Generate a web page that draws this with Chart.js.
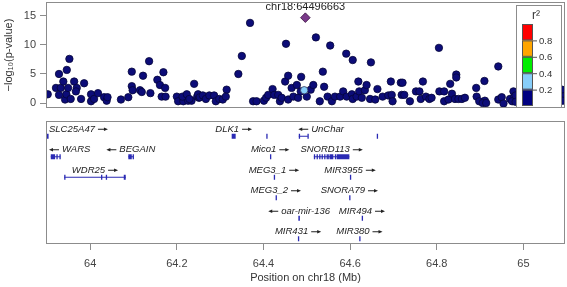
<!DOCTYPE html>
<html>
<head>
<meta charset="utf-8">
<script src="https://cdn.jsdelivr.net/npm/chart.js@4.4.1/dist/chart.umd.min.js"></script>
<style>
  body { margin: 0; background: #fff; }
  #top { position: absolute; left: 0; top: 0; }
  #bottom { position: absolute; left: 0; top: 112px; }
</style>
</head>
<body>
<canvas id="top" width="567" height="112"></canvas>
<canvas id="bottom" width="567" height="175"></canvas>
<script>
// SNP positions (Mb) and -log10(p), r2 < 0.2
const snpPos = [
  63.902, 63.921, 63.928, 63.932, 63.928, 63.938, 63.942, 63.945, 63.949, 63.946,
  63.952, 63.955, 63.963, 63.969, 63.967, 63.979, 63.986, 64.002, 64.002, 64.009,
  64.018, 64.032, 64.038, 64.040, 64.071, 64.088, 64.096, 64.096, 64.098, 64.115,
  64.119, 64.122, 64.136, 64.139, 64.155, 64.161, 64.165, 64.169, 64.173, 64.174,
  64.200, 64.203, 64.215, 64.221, 64.226, 64.234, 64.240, 64.247, 64.251, 64.213,
  64.223, 64.229, 64.249, 64.253, 64.260, 64.267, 64.275, 64.286, 64.290, 64.298,
  64.306, 64.315, 64.313, 64.342, 64.350, 64.369, 64.376, 64.384, 64.401, 64.406,
  64.411, 64.421, 64.425, 64.434, 64.438, 64.442, 64.450, 64.452, 64.457, 64.457,
  64.465, 64.469, 64.477, 64.480, 64.487, 64.486, 64.500, 64.509, 64.515, 64.521,
  64.530, 64.537, 64.540, 64.548, 64.554, 64.558, 64.565, 64.577, 64.584, 64.591,
  64.592, 64.604, 64.606, 64.606, 64.615, 64.619, 64.621, 64.627, 64.634, 64.638,
  64.648, 64.646, 64.658, 64.663, 64.675, 64.688, 64.694, 64.696, 64.698, 64.717,
  64.721, 64.719, 64.725, 64.738, 64.752, 64.760, 64.763, 64.768, 64.775, 64.783,
  64.788, 64.805, 64.806, 64.817, 64.817, 64.827, 64.831, 64.835, 64.845, 64.845,
  64.842, 64.850, 64.858, 64.865, 64.891, 64.892, 64.898, 64.910, 64.911, 64.942,
  64.942, 64.950, 64.969, 64.977, 64.979, 64.906, 64.914, 64.954, 64.974, 64.982,
  64.982, 65.089, 65.091, 65.091
];
const snpLogP = [
  1.5, 2.6, 5.0, 2.6, 1.4, 3.7, 0.6, 1.5, 2.6, 5.7,
  7.6, 0.7, 3.7, 2.6, 2.0, 0.7, 3.4, 1.5, 0.3, 0.7,
  1.7, 1.0, 0.4, 1.0, 0.6, 1.0, 5.4, 2.9, 2.2, 2.2,
  1.9, 4.7, 7.2, 1.7, 4.0, 3.1, 1.1, 5.3, 2.6, 1.1,
  1.1, 0.3, 0.3, 1.1, 0.4, 0.4, 3.3, 1.1, 0.9, 1.1,
  1.5, 0.7, 1.5, 1.0, 1.3, 0.7, 1.3, 1.3, 0.3, 0.7,
  0.6, 2.3, 1.1, 5.0, 8.1, 13.8, 0.3, 0.3, 0.4, 0.9,
  1.4, 2.4, 1.4, 1.4, 0.3, 0.9, 3.7, 10.2, 4.7, 0.6,
  2.6, 1.1, 3.1, 0.9, 4.5, 2.0, 1.1, 2.3, 3.1, 11.3,
  0.3, 5.4, 2.8, 1.1, 9.9, 0.3, 1.1, 1.1, 2.0, 8.5,
  1.1, 1.5, 0.7, 7.4, 1.1, 3.7, 2.0, 0.9, 2.2, 3.1,
  7.0, 0.7, 0.6, 2.4, 1.1, 1.3, 3.7, 1.4, 0.3, 3.5,
  3.5, 1.4, 1.4, 0.3, 2.0, 2.0, 0.7, 3.7, 1.1, 0.7,
  0.9, 9.5, 2.0, 2.0, 0.3, 0.6, 3.3, 1.6, 4.9, 4.4,
  0.7, 0.7, 0.7, 0.9, 2.6, 1.1, 0.3, 3.8, 0.4, 6.3,
  0.6, 1.0, 0.7, 2.0, 1.1, 0.0, 0.0, -0.1, 0.3, 1.3,
  0.2, 2.3, 1.1, 0.4
];
// r2 0.2-0.4
const ldPos = [64.494];
const ldLogP = [2.2];
// lead SNP
const leadName = 'chr18:64496663';
const leadPos = [64.496663];
const leadLogP = [14.7];

const xTicks = [64, 64.2, 64.4, 64.6, 64.8, 65];
const yTicks = [0, 5, 10, 15];
const r2Breaks = [0.8, 0.6, 0.4, 0.2];
const r2Colors = ['#ff0000', '#ffa500', '#00ee00', '#87cefa', '#000080'];

// gene track
const geneNames = ['SLC25A47', 'DLK1', 'UnChar', '', '', 'WARS', 'BEGAIN', 'Mico1', 'SNORD113',
  'WDR25', 'MEG3_1', 'MIR3955', 'MEG3_2', 'SNORA79', 'oar-mir-136', 'MIR494', 'MIR431', 'MIR380'];
const geneRow = [1, 1, 1, 1, 1, 2, 2, 2, 2, 3, 3, 3, 4, 4, 5, 5, 6, 6];
const geneStrand = [1, 1, -1, 1, 1, -1, -1, 1, 1, 1, 1, 1, 1, 1, -1, 1, 1, 1];
const geneLabelAt = [null, null, 64.533, null, null, null, null, null, null,
  null, null, null, null, null, null, null, null, null];
const geneExons = [
  [[63.898, 63.904]],
  [[64.3266, 64.3358]],
  [[64.4815, 64.4825], [64.5015, 64.5025]],
  [[64.4065, 64.4072]],
  [[64.6615, 64.6622]],
  [[63.909, 63.919], [63.922, 63.925], [63.929, 63.931]],
  [[64.088, 64.096], [64.098, 64.0995]],
  [[64.415, 64.4157]],
  [[64.5163, 64.517], [64.5226, 64.5233], [64.5286, 64.5293], [64.5341, 64.5348], [64.5401, 64.5408],
   [64.5457, 64.5464], [64.5494, 64.5501], [64.5536, 64.5612], [64.5648, 64.5655], [64.569, 64.5982]],
  [[63.94, 63.941], [64.025, 64.0257], [64.036, 64.0367], [64.0775, 64.082]],
  [[64.4238, 64.4245]],
  [[64.5995, 64.6002]],
  [[64.428, 64.4287]],
  [[64.5978, 64.5985]],
  [[64.4805, 64.484]],
  [[64.6268, 64.6275]],
  [[64.4795, 64.4802]],
  [[64.621, 64.6217]]
];

const xMin = 63.898, xMax = 65.096;
const frameColor = '#8c8c8c';
const geneColor = '#2a2ab4';

Chart.defaults.font.family = "'Liberation Sans', Arial, sans-serif";
Chart.defaults.color = '#444';

function drawFrame(chart) {
  const { ctx, chartArea: a } = chart;
  ctx.save();
  ctx.strokeStyle = frameColor;
  ctx.lineWidth = 1;
  ctx.strokeRect(a.left + 0.5, a.top + 0.5, a.right - a.left - 1, a.bottom - a.top - 1);
  ctx.restore();
}

const topDecor = {
  id: 'topDecor',
  afterDatasetsDraw(chart) {
    const { ctx, chartArea: a, scales: { x } } = chart;
    ctx.save();
    // lead SNP label
    ctx.fillStyle = '#222';
    ctx.font = "11px 'Liberation Sans', Arial";
    ctx.textAlign = 'center';
    ctx.textBaseline = 'middle';
    ctx.fillText(leadName, x.getPixelForValue(leadPos[0]), a.top + 5);

    // r2 legend
    const lx = a.right - 49, ly = a.top + 3, lw = 45, lh = a.bottom - ly;
    ctx.fillStyle = '#fff';
    ctx.fillRect(lx, ly, lw, lh);
    ctx.strokeStyle = frameColor;
    ctx.strokeRect(lx + 0.5, ly + 0.5, lw, lh - 1);
    ctx.fillStyle = '#333';
    ctx.font = "12px 'Liberation Sans', Arial";
    ctx.fillText('r²', lx + 20, ly + 11);
    const bx = lx + 6, bw = 11, by = ly + 19, bh = 16.4;
    r2Colors.forEach((c, i) => {
      ctx.fillStyle = c;
      ctx.fillRect(bx, by + i * bh, bw, bh);
      ctx.strokeStyle = '#555';
      ctx.strokeRect(bx + 0.5, by + i * bh + 0.5, bw - 1, bh - 1);
    });
    ctx.font = "9.5px 'Liberation Sans', Arial";
    ctx.textAlign = 'left';
    ctx.fillStyle = '#333';
    r2Breaks.forEach((b, i) => {
      const ty = by + (i + 1) * bh;
      ctx.strokeStyle = '#555';
      ctx.beginPath();
      ctx.moveTo(bx + bw, ty + 0.5);
      ctx.lineTo(bx + bw + 4, ty + 0.5);
      ctx.stroke();
      ctx.fillText(b.toFixed(1), bx + bw + 6, ty + 1);
    });
    ctx.restore();
  },
  afterDraw: drawFrame
};

function arrow(ctx, xFrom, xTo, y) {
  const dir = Math.sign(xTo - xFrom);
  ctx.beginPath();
  ctx.moveTo(xFrom, y);
  ctx.lineTo(xTo - dir * 3, y);
  ctx.stroke();
  ctx.beginPath();
  ctx.moveTo(xTo, y);
  ctx.lineTo(xTo - dir * 4, y - 1.8);
  ctx.lineTo(xTo - dir * 4, y + 1.8);
  ctx.closePath();
  ctx.fill();
}

const geneTrack = {
  id: 'geneTrack',
  afterDatasetsDraw(chart) {
    const { ctx, chartArea: a, scales: { x, y } } = chart;
    ctx.save();
    ctx.beginPath();
    ctx.rect(a.left, a.top, a.right - a.left, a.bottom - a.top);
    ctx.clip();
    geneNames.forEach((name, i) => {
      const ex = geneExons[i];
      const start = Math.min(...ex.map(e => e[0]));
      const end = Math.max(...ex.map(e => e[1]));
      const yc = y.getPixelForValue(geneRow[i]);
      const x0 = x.getPixelForValue(start), x1 = x.getPixelForValue(end);
      ctx.strokeStyle = geneColor;
      ctx.fillStyle = geneColor;
      ctx.lineWidth = 1;
      if (x1 - x0 > 4) {
        ctx.beginPath();
        ctx.moveTo(x0, yc + 0.5);
        ctx.lineTo(x1, yc + 0.5);
        ctx.stroke();
      }
      ex.forEach(([s, e]) => {
        const p0 = x.getPixelForValue(s), p1 = x.getPixelForValue(e);
        ctx.fillRect(p0, yc - 2, Math.max(p1 - p0, 1.3), 5);
      });
      if (!name) return;
      ctx.font = "italic 9.5px 'Liberation Sans', Arial";
      const tw = ctx.measureText(name).width;
      const gw = tw + 3 + 10;
      const cx = geneLabelAt[i] != null ? x.getPixelForValue(geneLabelAt[i]) : (x0 + x1) / 2;
      let left = cx - gw / 2;
      left = Math.max(left, a.left + 3);
      left = Math.min(left, a.right - 3 - gw);
      const ty = yc - 6.5;
      ctx.fillStyle = '#222';
      ctx.strokeStyle = '#222';
      ctx.textBaseline = 'middle';
      ctx.textAlign = 'left';
      if (geneStrand[i] > 0) {
        ctx.fillText(name, left, ty);
        arrow(ctx, left + tw + 3, left + gw, ty);
      } else {
        arrow(ctx, left + 10, left, ty);
        ctx.fillText(name, left + 13, ty);
      }
    });
    ctx.restore();
  },
  afterDraw: drawFrame
};

const toPoints = (xs, ys) => xs.map((v, i) => ({ x: v, y: ys[i] }));

new Chart(document.getElementById('top'), {
  type: 'scatter',
  data: {
    datasets: [
      {
        data: toPoints(leadPos, leadLogP),
        pointStyle: 'rectRot',
        pointRadius: 4.8,
        backgroundColor: '#7a3a8a',
        borderColor: '#3a1040',
        borderWidth: 0.8,
      },
      {
        data: toPoints(ldPos, ldLogP),
        pointRadius: 3.7,
        backgroundColor: '#87cefa',
        borderColor: '#335',
        borderWidth: 0.8,
      },
      {
        data: toPoints(snpPos, snpLogP),
        pointRadius: 3.7,
        backgroundColor: '#0c0c78',
        borderColor: '#05053a',
        borderWidth: 0.8,
        clip: 0,
      },
    ],
  },
  options: {
    responsive: false,
    animation: false,
    events: [],
    layout: { autoPadding: false, padding: { top: 2, right: 2, bottom: 4, left: 0 } },
    plugins: { legend: { display: false }, tooltip: { enabled: false } },
    scales: {
      x: { type: 'linear', display: false, min: xMin, max: xMax },
      y: {
        type: 'linear',
        min: -0.86,
        max: 17.4,
        afterFit: (s) => { s.width = 46; s.paddingTop = 0; s.paddingBottom = 0; },
        afterBuildTicks: (s) => { s.ticks = yTicks.map((v) => ({ value: v })); },
        grid: { drawOnChartArea: false, tickLength: 6, color: frameColor },
        border: { display: false },
        ticks: { color: '#444', font: { size: 11 }, padding: 4 },
        title: {
          display: true,
          text: '−log₁₀(p-value)',
          color: '#333',
          font: { size: 11 },
          padding: { top: 2, bottom: 0 },
        },
      },
    },
  },
  plugins: [topDecor],
});

new Chart(document.getElementById('bottom'), {
  type: 'scatter',
  data: { datasets: [{ data: [] }] },
  options: {
    responsive: false,
    animation: false,
    events: [],
    layout: { autoPadding: false, padding: { top: 9, right: 2, bottom: 0, left: 46 } },
    plugins: { legend: { display: false }, tooltip: { enabled: false } },
    scales: {
      x: {
        type: 'linear',
        min: xMin,
        max: xMax,
        afterFit: (s) => { s.height = 43; },
        afterBuildTicks: (s) => { s.ticks = xTicks.map((v) => ({ value: v })); },
        grid: { drawOnChartArea: false, tickLength: 6, color: frameColor },
        border: { display: false },
        ticks: {
          color: '#444',
          font: { size: 11 },
          padding: 7,
          maxRotation: 0,
          autoSkip: false,
          callback: (v) => String(+v.toFixed(1)),
        },
        title: {
          display: true,
          text: 'Position on chr18 (Mb)',
          color: '#333',
          font: { size: 11 },
          padding: { top: 0, bottom: 2 },
        },
      },
      y: { type: 'linear', display: false, min: 0.28, max: 6.28, reverse: true },
    },
  },
  plugins: [geneTrack],
});
</script>
</body>
</html>
